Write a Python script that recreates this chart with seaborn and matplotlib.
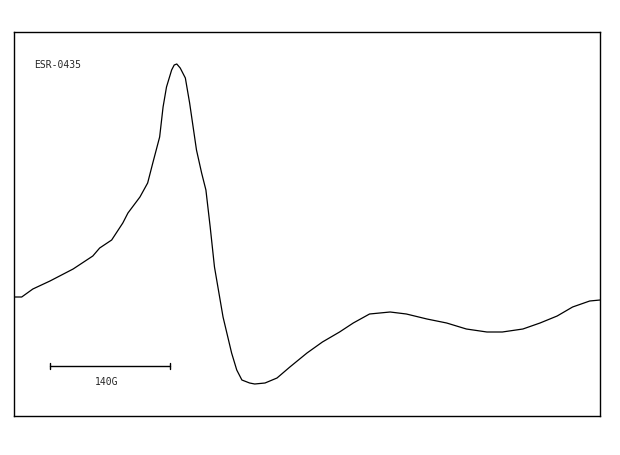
import numpy as np
import pandas as pd
import seaborn as sns
import matplotlib.pyplot as plt

# ESR spectrum (field in G, signal in arbitrary units)
field = [0, 9, 22, 42, 69, 92, 100, 114, 127, 133, 147, 156, 162, 170,
         174, 178, 184, 187, 190, 194, 200, 205, 213, 219, 224, 229,
         234, 244, 254, 260, 266, 275, 281, 293, 307, 322, 342, 360,
         380, 396, 415, 439, 458, 482, 505, 528, 552, 570, 594, 614,
         634, 652, 672, 684]
signal = [0, 0, 8, 16, 28, 41, 49, 57, 74, 84, 100, 114, 134, 160,
          190, 210, 227, 232, 233, 229, 219, 194, 147, 124, 107, 70,
          30, -20, -56, -73, -83, -86, -87, -86, -81, -70, -56, -45,
          -35, -26, -17, -15, -17, -22, -26, -32, -35, -35, -32, -26,
          -19, -10, -4, -3]

scale_len = 140
scale_label = "140G"
sample_id = "ESR-0435"

df = pd.DataFrame({"field": field, "signal": signal})

sns.set_style("white")
fig = plt.figure(figsize=(6.2, 4.55), dpi=100)
ax = fig.add_axes([14 / 620, 39 / 455, 586 / 620, 384 / 455])

sns.lineplot(data=df, x="field", y="signal", ax=ax, color="black",
             linewidth=0.9, sort=False)

ax.set_xlim(0, 684)
ax.set_ylim(-119, 265)
ax.set_xticks([])
ax.set_yticks([])
ax.set_xlabel("")
ax.set_ylabel("")
for s in ax.spines.values():
    s.set_color("black")
    s.set_linewidth(1.0)

# scale bar
x0 = 42
ybar = -69
ax.plot([x0, x0 + scale_len], [ybar, ybar], color="black", lw=1.0)
ax.plot([x0, x0], [ybar - 3, ybar + 3], color="black", lw=1.0)
ax.plot([x0 + scale_len, x0 + scale_len], [ybar - 3, ybar + 3],
        color="black", lw=1.0)
ax.text(x0 + 66, ybar - 16, scale_label, fontsize=7, family="DejaVu Sans Mono",
        ha="center", va="center")

ax.text(24, 232, sample_id, fontsize=7, family="DejaVu Sans Mono",
        ha="left", va="center")

fig.savefig("out.png", dpi=100)
